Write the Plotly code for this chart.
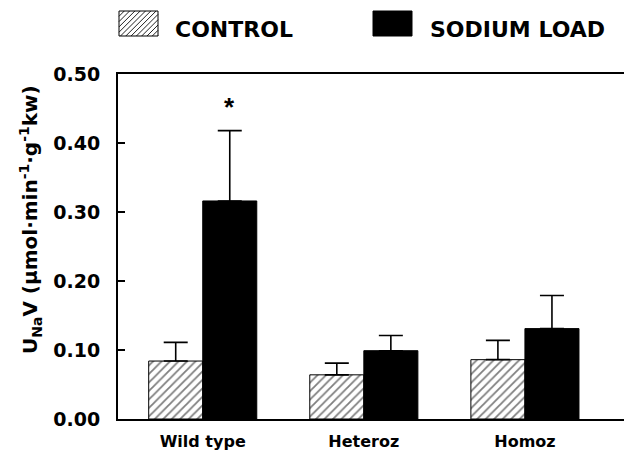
import plotly.graph_objects as go

# ---- data ----
categories = ["Wild type", "Heteroz", "Homoz"]
control_vals = [0.084, 0.064, 0.086]
control_err = [0.027, 0.017, 0.028]
sodium_vals = [0.316, 0.099, 0.131]
sodium_err = [0.102, 0.022, 0.048]
y_ticks = [0.0, 0.1, 0.2, 0.3, 0.4, 0.5]
legend_labels = ["CONTROL", "SODIUM LOAD"]
sig_marker_y = 0.452

FONT = "DejaVu Sans"
W, H = 624, 450
ML, MR, MT, MB = 118, 0, 74, 31
PW, PH = W - ML - MR, H - MT - MB


def px2paper(px, py):
    return (px - ML) / PW, (H - MB - py) / PH


def hatch_path(x0, y0, x1, y1, step):
    h = y1 - y0
    parts = []
    c = x0 - h
    while c < x1:
        t0 = max(0, x0 - c)
        t1 = min(h, x1 - c)
        if t1 > t0:
            ax, ay = px2paper(c + t0, y1 - t0)
            bx, by = px2paper(c + t1, y1 - t1)
            parts.append(f"M{ax:.5f},{ay:.5f} L{bx:.5f},{by:.5f}")
        c += step
    return " ".join(parts)


fig = go.Figure()
fig.add_trace(go.Bar(
    x=categories, y=control_vals, name=legend_labels[0],
    marker=dict(color="white", line=dict(color="black", width=1),
                pattern=dict(shape="/", fgcolor="black", bgcolor="white", size=6, solidity=0.3)),
    error_y=dict(type="data", array=control_err, arrayminus=[0] * 3, symmetric=False,
                 color="black", thickness=1.6, width=12),
))
fig.add_trace(go.Bar(
    x=categories, y=sodium_vals, name=legend_labels[1],
    marker=dict(color="black", line=dict(color="black", width=1)),
    error_y=dict(type="data", array=sodium_err, arrayminus=[0] * 3, symmetric=False,
                 color="black", thickness=1.6, width=12),
))

fig.update_layout(
    width=W, height=H,
    margin=dict(l=ML, r=MR, t=MT, b=MB, pad=0),
    paper_bgcolor="white", plot_bgcolor="white",
    barmode="group", bargap=0.329, bargroupgap=0,
    showlegend=False,
    font=dict(family=FONT, color="black"),
)
fig.update_xaxes(
    range=[-0.526, 2.615], showline=True, linecolor="black", linewidth=2, mirror=True,
    ticks="", showgrid=False, zeroline=False,
    tickfont=dict(family=FONT, size=16, weight="bold"),
    ticklabelstandoff=7,
)
fig.update_yaxes(
    range=[0, 0.5], tickvals=y_ticks, tickformat=".2f",
    showline=True, linecolor="black", linewidth=2,
    ticks="inside", ticklen=7, tickwidth=1.5, tickcolor="black",
    showgrid=False, zeroline=False,
    tickfont=dict(family=FONT, size=19, weight="bold"),
    ticklabelstandoff=12,
)

# significance marker
fig.add_annotation(x=0, y=sig_marker_y, xref="x", yref="y", xshift=27, text="*",
                   showarrow=False, font=dict(family="Liberation Sans", size=26, weight="bold"),
                   xanchor="center", yanchor="middle")

# y-axis title
tx, ty = px2paper(30, 220)
fig.add_annotation(x=tx, y=ty, xref="paper", yref="paper", textangle=-90,
                   text="U<sub>Na</sub>V (µmol·min<sup>-1</sup>·g<sup>-1</sup>kw)",
                   showarrow=False, xanchor="center", yanchor="middle",
                   font=dict(family=FONT, size=20, weight="bold"))

# legend
boxes = [(119, 11, 158, 36), (373, 11, 412, 36)]
text_x = [173, 428]
for i, (bx0, by0, bx1, by1) in enumerate(boxes):
    p0 = px2paper(bx0, by1)
    p1 = px2paper(bx1, by0)
    if i == 0:
        fig.add_shape(type="path", xref="paper", yref="paper",
                      path=hatch_path(bx0, by0, bx1, by1, 5.3),
                      line=dict(color="#222", width=1))
        fig.add_shape(type="rect", xref="paper", yref="paper",
                      x0=p0[0], y0=p0[1], x1=p1[0], y1=p1[1],
                      line=dict(color="black", width=1), fillcolor="rgba(0,0,0,0)")
    else:
        fig.add_shape(type="rect", xref="paper", yref="paper",
                      x0=p0[0], y0=p0[1], x1=p1[0], y1=p1[1],
                      line=dict(color="black", width=1), fillcolor="black")
    lx, ly = px2paper(text_x[i], 29)
    fig.add_annotation(x=lx, y=ly, xref="paper", yref="paper", text=legend_labels[i],
                       showarrow=False, xanchor="left", yanchor="middle",
                       font=dict(family=FONT, size=22, weight="bold"))

fig.write_html("out.html", config={"displayModeBar": False},
               post_script="document.body.style.margin='0';document.body.style.padding='0';")
